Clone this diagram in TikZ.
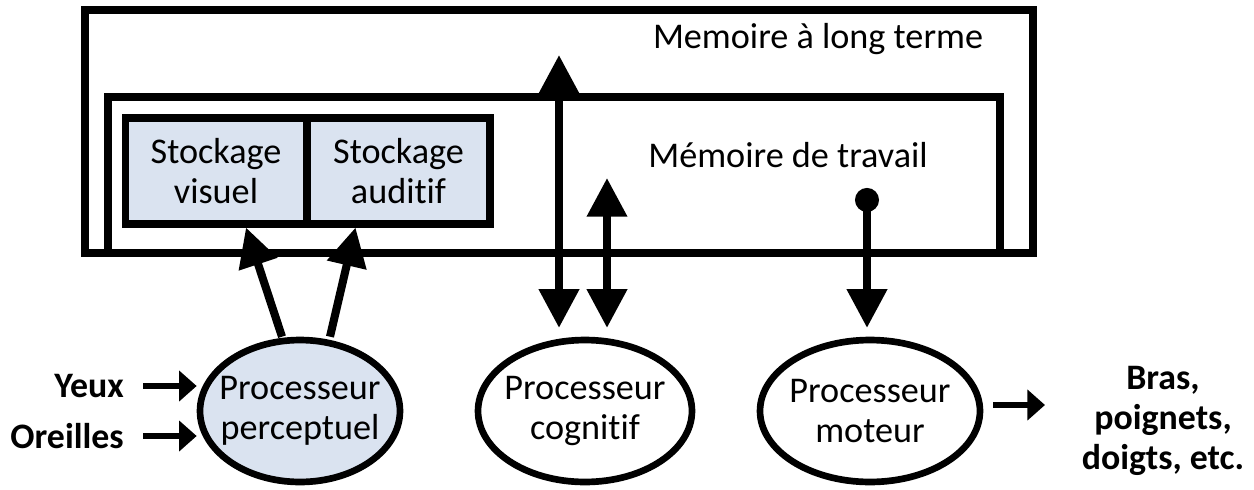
\documentclass[tikz,border=0pt]{standalone}
\usepackage{fontspec}
\setmainfont{Carlito}[Ligatures=NoCommon]
\usetikzlibrary{shapes.geometric,arrows.meta,positioning}
\definecolor{storeblue}{RGB}{218,227,240}
\tikzstyle{frame}=[draw, line width=4pt]
\tikzstyle{store}=[draw, line width=4pt, fill=storeblue, minimum height=2.12cm, align=center, inner sep=0pt]
\tikzstyle{proc}=[ellipse, draw, line width=3.8pt, minimum width=4cm, minimum height=2.84cm, align=center, inner sep=-12pt]
\tikzstyle{organ}=[font=\fontsize{20.4}{22.7}\selectfont\bfseries]
\tikzstyle{flow}=[line width=4.6pt, -{Triangle[length=22pt,width=22pt]}]
\tikzstyle{twoway}=[line width=4.6pt, {Triangle[length=22pt,width=22pt]}-{Triangle[length=22pt,width=22pt]}]
\tikzstyle{sense}=[line width=3.4pt, -{Triangle[length=10pt,width=17pt]}]
\newcommand{\proc}{\node[proc]}

\begin{document}
\begin{tikzpicture}[x=0.02cm, y=-0.02cm, font=\fontsize{20.6}{22.7}\selectfont]
	\useasboundingbox (0,0) rectangle (1254,490);
	%% the memory boxes
	\draw[frame] (85,10) rectangle (1033,253);
	\draw[frame] (108,253) |- (1000,97) -- (1000,253);
	\node (ltm) at (818,39) {Memoire à long terme};
	\node (wm) at (788,155) {Mémoire de travail};
	\node[store, minimum width=3.64cm] (vis) at (216,171) {Stockage\\visuel};
	\node[store, minimum width=3.66cm] (aud) at (398.5,171) {Stockage\\auditif};
	%% the processors
	\proc[fill=storeblue] (perc) at (300,411) {Processeur\\perceptuel};
	\proc[minimum width=4.28cm] (cog) at (585,411) {Processeur\\cognitif};
	\proc[minimum width=4.4cm] (mot) at (870,411) {Processeur\\moteur};
	%% senses and limbs
	\node[organ, anchor=east] (eyes) at (130,386) {Yeux};
	\node[organ, anchor=east] (ears) at (130,436) {Oreilles};
	\node[organ, align=center] (limbs) at (1163,421) {Bras,\\poignets,\\doigts, etc.};
	%% arrow ends
	\coordinate (ltmtop) at (559,55);
	\coordinate (wmtop) at (607,178);
	\coordinate (wmdot) at (867,188);
	\coordinate (out) at (1045,405);
	%% for the arrows
	\draw[sense] (eyes.east) ++(13,0) -- (eyes -| perc.west);
	\draw[sense] (ears.east) ++(13,0) -- (ears -| perc.west);
	\draw[flow] ([xshift=-0.36cm]perc.north) -- ([xshift=0.6cm]vis.south);
	\draw[flow] ([xshift=0.6cm]perc.north) -- ([xshift=-0.86cm]aud.south);
	\draw[twoway, shorten >=5pt] (ltmtop) -- (ltmtop |- cog.north);
	\draw[twoway, shorten >=5pt] (wmtop) -- (wmtop |- cog.north);
	\draw[line width=4.6pt, {Circle[length=13.6pt]}-{Triangle[length=22pt,width=22pt]}, shorten >=5pt] (wmdot) -- (wmdot |- mot.north);
	\draw[sense] ([xshift=0.2cm]mot.east |- out) -- (out);
\end{tikzpicture}
\end{document}
